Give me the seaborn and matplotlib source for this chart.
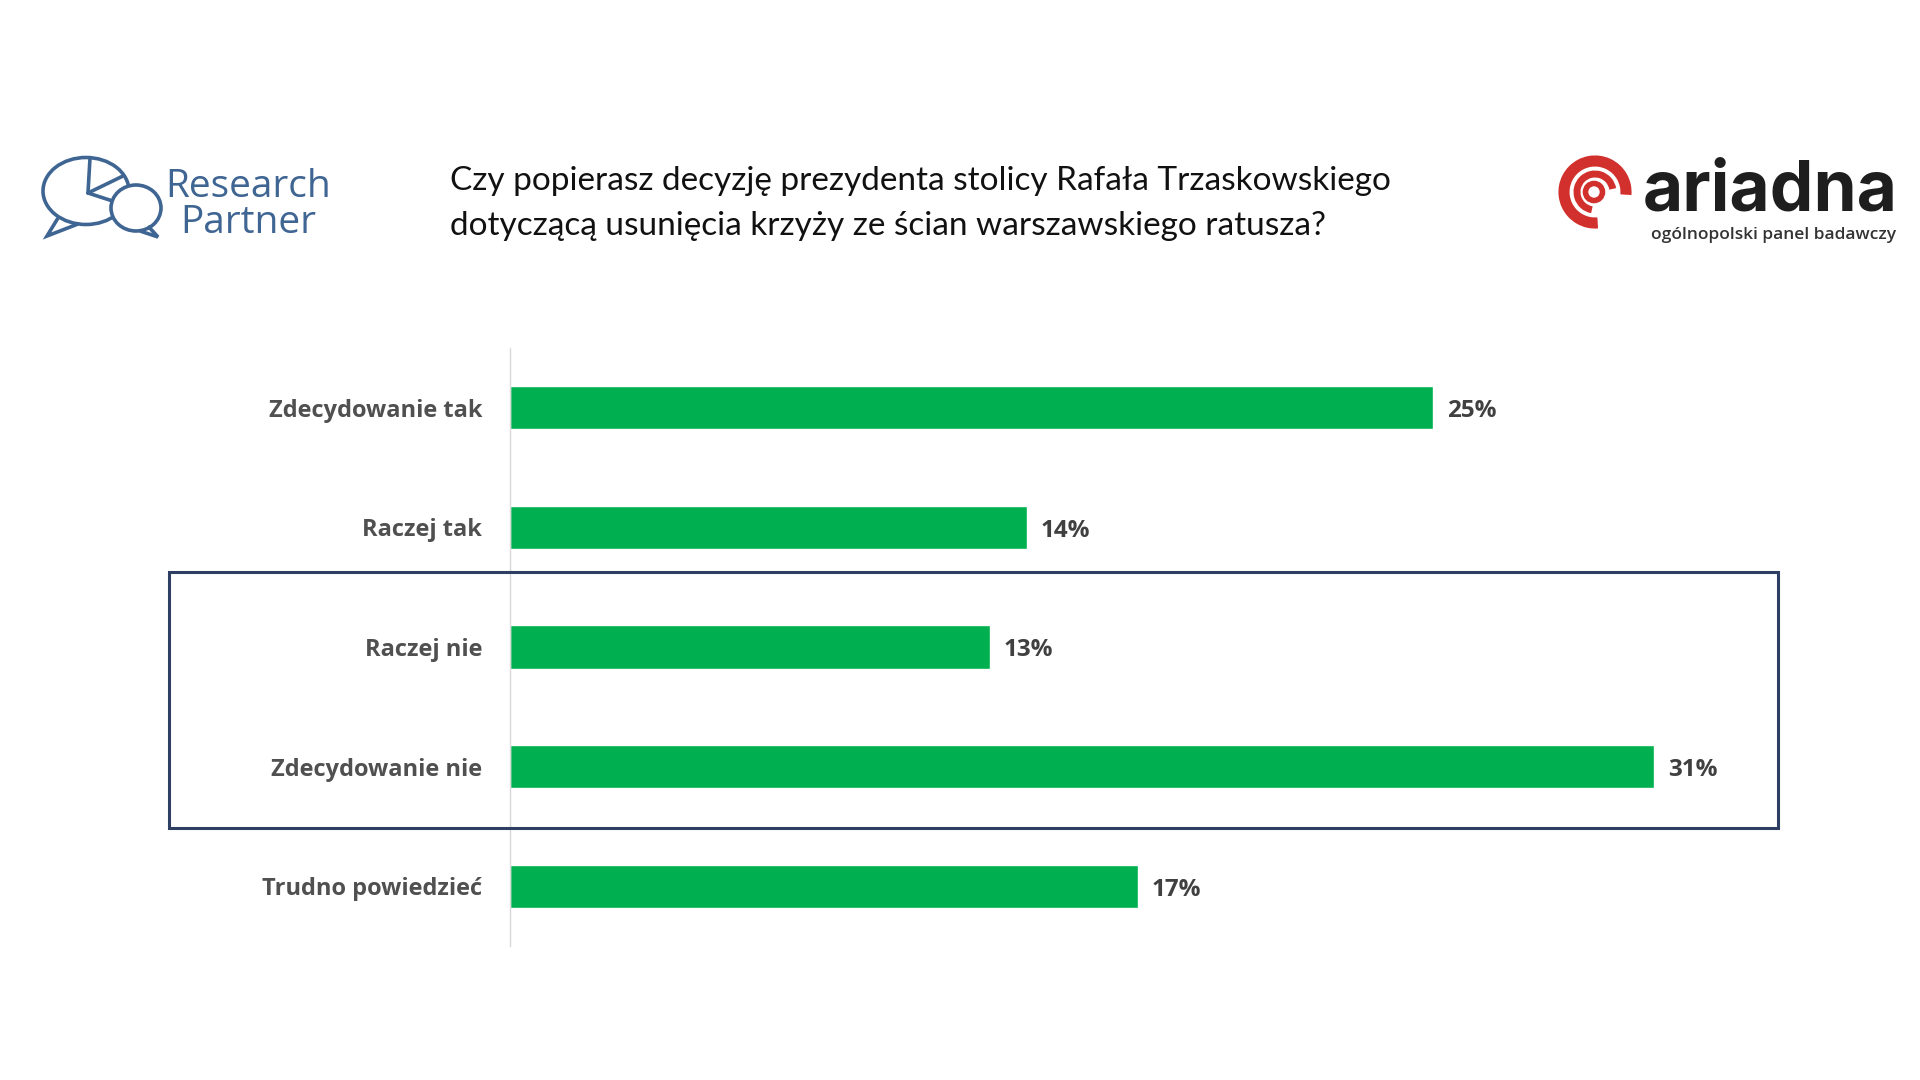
import matplotlib
matplotlib.use("Agg")
import matplotlib.pyplot as plt
from matplotlib.patches import Rectangle, Ellipse, Arc, Polygon
import seaborn as sns

categories = ["Zdecydowanie tak", "Raczej tak", "Raczej nie", "Zdecydowanie nie", "Trudno powiedzieć"]
values = [25, 14, 13, 31, 17]
title_lines = ["Czy popierasz decyzję prezydenta stolicy Rafała Trzaskowskiego",
               "dotyczącą usunięcia krzyży ze ścian warszawskiego ratusza?"]

GREEN = "#00B050"
LABEL_GREY = "#505050"
NAVY = "#2E3F63"
RP_BLUE = "#3F6593"
RED = "#D2302C"

sns.set_style("white")
plt.rcParams["font.family"] = ["Open Sans", "DejaVu Sans"]

fig = plt.figure(figsize=(19.2, 10.8), dpi=100)

# main chart
ax = fig.add_axes([510 / 1920, 1 - 946 / 1080, 0.6922, 598 / 1080])
sns.barplot(x=values, y=categories, orient="h", color=GREEN, saturation=1,
            width=0.36, ax=ax)
ax.set_xlim(0, 36)
ax.set_ylim(4.5, -0.5)
ax.set_xlabel("")
ax.set_ylabel("")
ax.set_xticks([])
for s in ["top", "right", "bottom"]:
    ax.spines[s].set_visible(False)
ax.spines["left"].set_color("#D9D9D9")
ax.spines["left"].set_linewidth(1)
ax.tick_params(axis="y", length=0, pad=20)
for lab in ax.get_yticklabels():
    lab.set_fontsize(17)
    lab.set_fontweight("bold")
    lab.set_color(LABEL_GREY)

# value labels just right of each bar
for i, v in enumerate(values):
    ax.annotate(f"{v}%", xy=(v, i), xytext=(10, -2.5), textcoords="offset points",
                ha="left", va="center", fontsize=17.5, fontweight="bold", color="#404040")

# highlight frame around the "nie" answers
fig.add_artist(Rectangle((169 / 1920, 1 - 828 / 1080), (1778 - 169) / 1920, (828 - 572) / 1080,
                         transform=fig.transFigure, fill=False, edgecolor=NAVY, lw=2.2))

# title
fig.text(450 / 1920, 1 - 181 / 1080, title_lines[0], fontsize=24, color="#111111",
         family=["Lato", "DejaVu Sans"], va="center", ha="left")
fig.text(450 / 1920, 1 - 226 / 1080, title_lines[1], fontsize=24, color="#111111",
         family=["Lato", "DejaVu Sans"], va="center", ha="left")

# overlay in pixel coordinates for the logos
ov = fig.add_axes([0, 0, 1, 1], zorder=-1)
ov.set_xlim(0, 1920)
ov.set_ylim(1080, 0)
ov.axis("off")

# Research Partner logo
ov.add_patch(Ellipse((86, 191), 86, 67, fill=False, edgecolor=RP_BLUE, lw=2.6))
ov.add_patch(Polygon([[58, 218], [47, 236], [78, 224]], closed=False, fill=False,
                     edgecolor=RP_BLUE, lw=2.6))
ov.plot([88, 90], [193, 158], color=RP_BLUE, lw=2.6)
ov.plot([88, 123], [193, 176], color=RP_BLUE, lw=2.6)
ov.plot([88, 128], [193, 206], color=RP_BLUE, lw=2.6)
ov.add_patch(Ellipse((136, 208), 50, 46, facecolor="white", edgecolor=RP_BLUE, lw=2.6, zorder=3))
ov.add_patch(Polygon([[148, 226], [158, 237], [140, 231]], closed=False, fill=False,
                     edgecolor=RP_BLUE, lw=2.6, zorder=4))
fig.text(248 / 1920, 1 - 205 / 1080, "Research\nPartner", fontsize=28, color=RP_BLUE,
         ha="center", va="center", multialignment="center", linespacing=0.92,
         family=["Open Sans", "DejaVu Sans"])

# ariadna logo
ov.add_patch(Arc((1595, 192), 62, 62, theta1=85, theta2=365, color=RED, lw=8))
ov.add_patch(Arc((1595, 192), 36, 36, theta1=100, theta2=350, color=RED, lw=5))
ov.add_patch(Ellipse((1594, 192), 17, 17, fill=False, edgecolor=RED, lw=4))
fig.text(1643 / 1920, 1 - 192 / 1080, "ariadna", fontsize=50, fontweight="bold",
         color="#1E1E1E", ha="left", va="center", family=["Inter", "DejaVu Sans"])
fig.text(1896 / 1920, 1 - 235 / 1080, "ogólnopolski panel badawczy", fontsize=12.5,
         fontweight="semibold", color="#333333", ha="right", va="center",
         family=["Open Sans", "DejaVu Sans"])

fig.savefig("out.png", dpi=100, facecolor="white")
